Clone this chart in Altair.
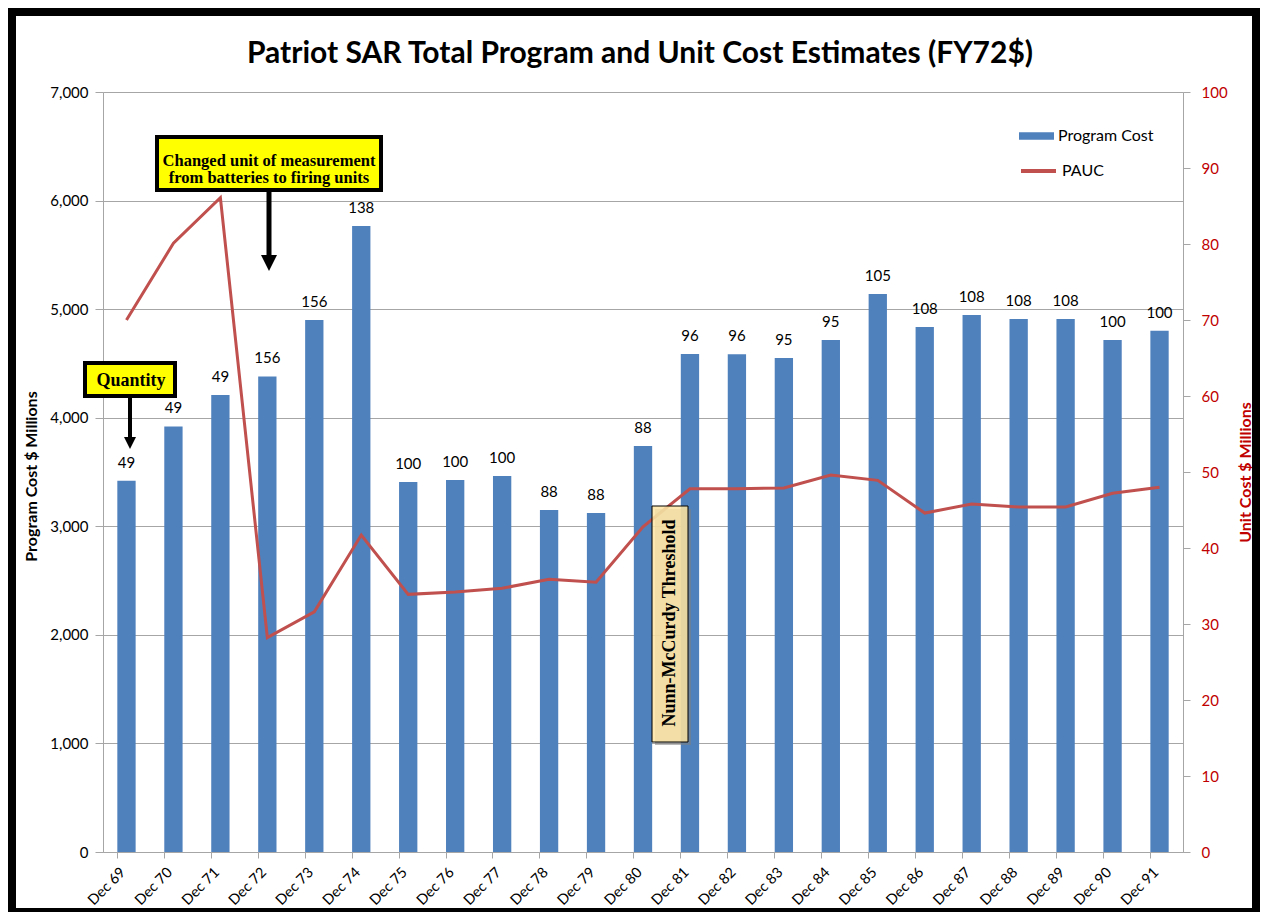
import altair as alt
import pandas as pd

# ---------------- data ----------------
categories = ["Dec 69", "Dec 70", "Dec 71", "Dec 72", "Dec 73", "Dec 74", "Dec 75",
              "Dec 76", "Dec 77", "Dec 78", "Dec 79", "Dec 80", "Dec 81", "Dec 82",
              "Dec 83", "Dec 84", "Dec 85", "Dec 86", "Dec 87", "Dec 88", "Dec 89",
              "Dec 90", "Dec 91"]
program_cost = [3420, 3920, 4210, 4380, 4900, 5765, 3408, 3426, 3463, 3150, 3122, 3740,
                4587, 4585, 4550, 4716, 5140, 4835, 4946, 4909, 4909, 4716, 4800]
pauc = [70.0, 80.1, 86.1, 28.2, 31.6, 41.7, 33.9, 34.2, 34.7, 35.9, 35.5, 42.8,
        47.8, 47.8, 47.9, 49.6, 48.9, 44.6, 45.8, 45.4, 45.4, 47.2, 48.0]
quantity = [49, 49, 49, 156, 156, 138, 100, 100, 100, 88, 88, 88,
            96, 96, 95, 95, 105, 108, 108, 108, 108, 100, 100]
left_ticks = [0, 1000, 2000, 3000, 4000, 5000, 6000, 7000]
right_ticks = [0, 10, 20, 30, 40, 50, 60, 70, 80, 90, 100]

TITLE = "Patriot SAR Total Program and Unit Cost Estimates (FY72$)"
NOTE1 = ["Changed unit of measurement", "from batteries to firing units"]
NOTE2 = "Quantity"
NOTE3 = "Nunn-McCurdy Threshold"

df = pd.DataFrame({
    "period": categories,
    "cost": program_cost,
    "pauc": pauc,
    "qty": [str(q) for q in quantity],
    "s1": ["Program Cost"] * len(categories),
    "s2": ["PAUC"] * len(categories),
})
one = pd.DataFrame({"k": [0]})

# ---------------- styling ----------------
W, H = 1080, 760
BLUE = "#4F81BD"
RED = "#C0504D"
AXRED = "#C00000"
GRID = "#A6A6A6"
FONT = "Lato"
SERIF = "Liberation Serif"

x_enc = alt.X(
    "period:N", sort=categories,
    scale=alt.Scale(paddingInner=0.61, paddingOuter=0.305),
    axis=alt.Axis(title=None, labelAngle=-45, labelAlign="right", labelBaseline="middle",
                  bandPosition=0, labelOffset=-3, tickSize=6, labelPadding=12,
                  labelFontSize=14.5, labelFont=FONT, labelColor="black",
                  domainColor=GRID, tickColor=GRID, grid=False),
)

y_left = alt.Y(
    "cost:Q",
    scale=alt.Scale(domain=[0, 7000], nice=False),
    axis=alt.Axis(title="Program Cost $ Millions", values=left_ticks, format=",.0f",
                  grid=True, gridColor=GRID, domainColor=GRID, tickColor=GRID,
                  tickSize=8, labelPadding=7, labelFontSize=15, labelFont=FONT,
                  labelColor="black", titleFont=FONT, titleFontSize=16,
                  titleFontWeight="bold", titleColor="black", titleAngle=270,
                  titleX=-72, titleY=384, titleBaseline="middle", titleAlign="center"),
)

y_right = alt.Y(
    "pauc:Q",
    scale=alt.Scale(domain=[0, 100], nice=False),
    axis=alt.Axis(orient="right", title="Unit Cost $ Millions", values=right_ticks,
                  grid=False, domainColor=GRID, tickColor=GRID, tickSize=7,
                  labelPadding=11, labelColor=AXRED, labelFontSize=15, labelFont=FONT,
                  titleColor=AXRED, titleFont=FONT, titleFontSize=16,
                  titleFontWeight="bold", titleAngle=270, titleX=62, titleY=380,
                  titleBaseline="middle", titleAlign="center"),
)

base = alt.Chart(df)

bars = base.mark_bar().encode(
    x=x_enc, y=y_left,
    fill=alt.Fill("s1:N", scale=alt.Scale(domain=["Program Cost"], range=[BLUE]),
                  legend=alt.Legend(title=None, orient="none", legendX=916, legendY=26.5,
                                    padding=0, symbolType="M-1,-0.22H1V0.22H-1Z",
                                    symbolSize=1225, symbolStrokeWidth=0,
                                    labelFont=FONT, labelFontSize=16, labelColor="black",
                                    labelOffset=4)),
)

labels = base.mark_text(dy=-18, baseline="middle", align="center", fontSize=15,
                        font=FONT, color="black").encode(x=x_enc, y=y_left, text="qty:N")

line = base.mark_line(strokeWidth=3).encode(
    x=x_enc, y=y_right,
    stroke=alt.Stroke("s2:N", scale=alt.Scale(domain=["PAUC"], range=[RED]),
                      legend=alt.Legend(title=None, orient="none", legendX=916, legendY=59.5,
                                        padding=0, symbolType="stroke", symbolSize=1225,
                                        symbolStrokeWidth=4,
                                        labelFont=FONT, labelFontSize=16, labelColor="black",
                                        labelOffset=4)),
)

ann = alt.Chart(one)


def box(x1, x2, y1, y2, fill, sw, opacity=1.0, shadow=3):
    sh = ann.mark_rect(fill="#808080", opacity=0.55).encode(
        x=alt.value(x1 + shadow), x2=alt.value(x2 + shadow),
        y=alt.value(y1 + shadow), y2=alt.value(y2 + shadow))
    bx = ann.mark_rect(fill=fill, stroke="black", strokeWidth=sw, fillOpacity=opacity).encode(
        x=alt.value(x1), x2=alt.value(x2), y=alt.value(y1), y2=alt.value(y2))
    return [sh, bx]


def arrow(x, y1, y2, w, head, head_center):
    shaft = ann.mark_rule(color="black", strokeWidth=w).encode(
        x=alt.value(x), y=alt.value(y1), y2=alt.value(y2))
    tip = ann.mark_point(shape="M-1,-1L1,-1L0,1Z", filled=True, size=head * head,
                         color="black", opacity=1, strokeWidth=0).encode(
        x=alt.value(x), y=alt.value(head_center))
    return [shaft, tip]


title = ann.mark_text(text=TITLE, font=FONT, fontSize=30, fontWeight="bold",
                      baseline="alphabetic", align="center", color="black").encode(
    x=alt.value(537), y=alt.value(-29))

frame = ann.mark_rect(fillOpacity=0, stroke="black", strokeWidth=8).encode(
    x=alt.value(-91), x2=alt.value(1153), y=alt.value(-80), y2=alt.value(820))

note1 = box(54, 278, 45, 98, "#FFFF00", 4, shadow=2)
note1_txt = ann.mark_text(text=NOTE1, font=SERIF, fontSize=16.5, fontWeight="bold",
                          lineHeight=17, baseline="middle", align="center",
                          color="black").encode(x=alt.value(166), y=alt.value(69))
arrow1 = arrow(166, 100, 166, 5, 16, 171)

note2 = box(-18, 72, 271, 304, "#FFFF00", 4, shadow=2)
note2_txt = ann.mark_text(text=NOTE2, font=SERIF, fontSize=18, fontWeight="bold",
                          baseline="middle", align="center",
                          color="black").encode(x=alt.value(28), y=alt.value(289))
arrow2 = arrow(27, 306, 346, 4, 12, 351)

note3 = box(549, 585, 414, 650, "#FCE4A2", 1, opacity=0.85, shadow=3)
note3_txt = ann.mark_text(text=NOTE3, font=SERIF, fontSize=18, fontWeight="bold",
                          angle=270, baseline="middle", align="center",
                          color="black").encode(x=alt.value(567), y=alt.value(531))

chart = alt.layer(
    alt.layer(bars, labels), line,
    *note3, note3_txt,
    *note1, note1_txt, *arrow1,
    *note2, note2_txt, *arrow2,
    title, frame,
).resolve_scale(y="independent").properties(
    width=W, height=H,
    padding={"left": 95, "top": 84, "right": 77, "bottom": 60},
    autosize=alt.AutoSizeParams(type="none"),
).configure_view(stroke=None).configure(font=FONT)

chart.save("out.html", embed_options={"renderer": "svg", "actions": False})
